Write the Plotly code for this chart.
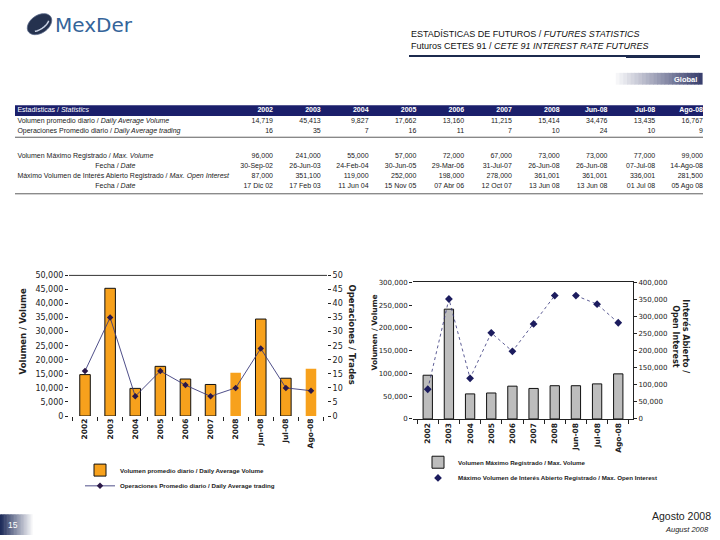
import numpy as np
import plotly.graph_objects as go

# ---------------- data ----------------
categories = ["2002", "2003", "2004", "2005", "2006", "2007", "2008", "Jun-08", "Jul-08", "Ago-08"]
daily_avg_volume = [14719, 45413, 9827, 17662, 13160, 11215, 15414, 34476, 13435, 16767]
daily_avg_trades = [16, 35, 7, 16, 11, 7, 10, 24, 10, 9]
max_volume = [96000, 241000, 55000, 57000, 72000, 67000, 73000, 73000, 77000, 99000]
max_volume_dates = ["30-Sep-02", "26-Jun-03", "24-Feb-04", "30-Jun-05", "29-Mar-06",
                    "31-Jul-07", "26-Jun-08", "26-Jun-08", "07-Jul-08", "14-Ago-08"]
max_open_interest = [87000, 351100, 119000, 252000, 198000, 278000, 361001, 361001, 336001, 281500]
max_oi_dates = ["17 Dic 02", "17 Feb 03", "11 Jun 04", "15 Nov 05", "07 Abr 06",
                "12 Oct 07", "13 Jun 08", "13 Jun 08", "01 Jul 08", "05 Ago 08"]
n_years = 7  # annual columns; the rest are months (line is broken between them)

header_label = "Estadísticas / <i>Statistics</i>"
row_labels = ["Volumen promedio diario / <i>Daily Average Volume</i>",
              "Operaciones Promedio diario / <i>Daily Average trading</i>",
              "Volumen Máximo Registrado / <i>Max. Volume</i>",
              "Fecha / <i>Date</i>",
              "Máximo Volumen de Interés Abierto Registrado / <i>Max. Open Interest</i>",
              "Fecha / <i>Date</i>"]

# ---------------- helpers / styles ----------------
W, H = 720, 540
def px(x):
    return x / W
def py(y):
    return 1 - y / H

NAVY = "#1b1f6b"
ORANGE = "#f7a11c"
GRAY_BAR = "#bdbdbd"
TXT = "#1a1a1a"
SANS = "Liberation Sans, Arial, sans-serif"
VERD = "DejaVu Sans, Verdana, sans-serif"

# table layout (style): header row + 6 body rows, y in px below table top
TABLE_TOP, TABLE_BOTTOM = 102, 197
header_row_y = 6.5
body_row_y = [17.5, 27.5, 52.5, 63, 73.5, 83.5]
label_col_x = -4.35       # left edge of label column (column units)
centered_label_x = -2.3   # centre of label column, for "Fecha / Date"
centered_rows = [3, 5]

def fmt(v):
    return f"{v:,}"

fig = go.Figure()

# ---------------- table (text marks on a hidden axis pair) ----------------
col_x = list(range(1, len(categories) + 1))
body_values = [[fmt(v) for v in daily_avg_volume],
               [str(v) for v in daily_avg_trades],
               [fmt(v) for v in max_volume],
               max_volume_dates,
               [fmt(v) for v in max_open_interest],
               max_oi_dates]

TFONT = dict(family=SANS, size=7, color=TXT)
fig.add_trace(go.Scatter(
    x=[label_col_x], y=[header_row_y], text=[header_label], mode="text",
    textposition="middle right", textfont=dict(family=SANS, size=7, color="white"),
    xaxis="x3", yaxis="y5", showlegend=False, hoverinfo="skip", cliponaxis=False))
fig.add_trace(go.Scatter(
    x=col_x, y=[header_row_y] * len(categories), text=categories, mode="text",
    textposition="middle left",
    textfont=dict(family=SANS, size=7, color="white", weight="bold"),
    xaxis="x3", yaxis="y5", showlegend=False, hoverinfo="skip", cliponaxis=False))
left_rows = [i for i in range(len(row_labels)) if i not in centered_rows]
fig.add_trace(go.Scatter(
    x=[label_col_x] * len(left_rows), y=[body_row_y[i] for i in left_rows],
    text=[row_labels[i] for i in left_rows], mode="text", textposition="middle right",
    textfont=TFONT, xaxis="x3", yaxis="y5", showlegend=False, hoverinfo="skip",
    cliponaxis=False))
fig.add_trace(go.Scatter(
    x=[centered_label_x] * len(centered_rows), y=[body_row_y[i] for i in centered_rows],
    text=[row_labels[i] for i in centered_rows], mode="text", textposition="middle center",
    textfont=TFONT, xaxis="x3", yaxis="y5", showlegend=False, hoverinfo="skip",
    cliponaxis=False))
vx, vy, vt = [], [], []
for r, vals in enumerate(body_values):
    for c, v in enumerate(vals):
        vx.append(col_x[c])
        vy.append(body_row_y[r])
        vt.append(v)
fig.add_trace(go.Scatter(
    x=vx, y=vy, text=vt, mode="text", textposition="middle left", textfont=TFONT,
    xaxis="x3", yaxis="y5", showlegend=False, hoverinfo="skip", cliponaxis=False))

# ---------------- left chart ----------------
left_outline = [1, 1, 1, 1, 1, 1, 0, 1, 1, 0]
fig.add_trace(go.Bar(
    x=categories, y=daily_avg_volume, width=0.42,
    name="Volumen promedio diario / Daily Average Volume",
    marker=dict(color=ORANGE, line=dict(color="#111111", width=left_outline)),
    xaxis="x", yaxis="y", legend="legend"))
fig.add_trace(go.Scatter(
    x=categories, y=daily_avg_trades, mode="lines+markers",
    name="Operaciones Promedio diario / Daily Average trading",
    line=dict(color="#3b3b7c", width=0.9),
    marker=dict(symbol="diamond", size=5, color="#2b1848"),
    xaxis="x", yaxis="y2", legend="legend2"))

# ---------------- right chart ----------------
fig.add_trace(go.Bar(
    x=categories, y=max_volume, width=0.44,
    name="Volumen Máximo Registrado / Max. Volume",
    marker=dict(color=GRAY_BAR, line=dict(color="#111111", width=1)),
    xaxis="x2", yaxis="y3", legend="legend3"))
LINE_R = dict(color="#34347a", width=0.8, dash="dot")
fig.add_trace(go.Scatter(
    x=categories[:n_years], y=max_open_interest[:n_years], mode="lines",
    line=LINE_R, showlegend=False, hoverinfo="skip", xaxis="x2", yaxis="y4"))
fig.add_trace(go.Scatter(
    x=categories[n_years:], y=max_open_interest[n_years:], mode="lines",
    line=LINE_R, showlegend=False, hoverinfo="skip", xaxis="x2", yaxis="y4"))
fig.add_trace(go.Scatter(
    x=categories, y=max_open_interest, mode="markers",
    name="Máximo Volumen de Interés Abierto Registrado / Max. Open Interest",
    marker=dict(symbol="diamond", size=6, color="#1c1c5e"),
    xaxis="x2", yaxis="y4", legend="legend4"))

# ---------------- axes ----------------
xtick_font = dict(family=VERD, size=7.5, color="#222", weight="bold")
xcommon = dict(type="category", categoryorder="array", categoryarray=categories,
               tickangle=-90, ticks="outside", ticklen=4, tickcolor="#222",
               tickson="boundaries", showgrid=False, zeroline=False,
               tickfont=xtick_font, fixedrange=True)
ycommon = dict(ticks="outside", ticklen=3, tickcolor="#222", showgrid=False,
               zeroline=False, tickformat=",", fixedrange=True)

fig.update_layout(
    xaxis=dict(domain=[px(69), px(327)], anchor="y", showline=False, **xcommon),
    yaxis=dict(domain=[py(419), py(276)], anchor="x", range=[0, 50000], dtick=5000,
               showline=False, tickfont=dict(family=VERD, size=8, color="#222"), **ycommon),
    yaxis2=dict(overlaying="y", side="right", anchor="x", range=[0, 50], dtick=5,
                showline=False, tickfont=dict(family=VERD, size=8, color="#222"), **ycommon),
    xaxis2=dict(domain=[px(413), px(633)], anchor="y3", showline=True, mirror=True,
                linecolor="#222", linewidth=1, **xcommon),
    yaxis3=dict(domain=[py(422), py(283)], anchor="x2", range=[0, 300000], dtick=50000,
                showline=False, tickfont=dict(family=VERD, size=7, color="#222"), **ycommon),
    yaxis4=dict(overlaying="y3", side="right", anchor="x2", range=[0, 400000], dtick=50000,
                showline=True, linecolor="#222", linewidth=1,
                tickfont=dict(family=VERD, size=7, color="#222"), **ycommon),
    xaxis3=dict(domain=[px(15), px(703)], anchor="y5", range=[label_col_x - 0.05, 10.0],
                visible=False, fixedrange=True),
    yaxis5=dict(domain=[py(TABLE_BOTTOM), py(TABLE_TOP)], anchor="x3",
                range=[TABLE_BOTTOM - TABLE_TOP, 0], visible=False, fixedrange=True),
)

# ---------------- legends ----------------
leg_font = dict(family=SANS, size=6.2, color=TXT, weight="bold")
def leg(x, y):
    return dict(x=px(x), y=py(y), xanchor="left", yanchor="middle",
                bgcolor="rgba(0,0,0,0)", borderwidth=0, font=leg_font,
                itemclick=False, itemdoubleclick=False)
fig.update_layout(
    legend=leg(80, 474),
    legend2=leg(80, 490),
    legend3=leg(418, 466),
    legend4=leg(418, 482),
)

# ---------------- decorations ----------------
shapes = []
shapes.append(dict(type="rect", xref="paper", yref="paper", x0=px(15), x1=px(703),
                   y0=py(114), y1=py(103), fillcolor=NAVY, line=dict(width=0), layer="below"))
shapes.append(dict(type="line", xref="paper", yref="paper", x0=px(15), x1=px(703),
                   y0=py(135.5), y1=py(135.5), line=dict(color="#333", width=0.8)))
shapes.append(dict(type="line", xref="paper", yref="paper", x0=px(15), x1=px(703),
                   y0=py(193), y1=py(193), line=dict(color="#333", width=0.8)))
shapes.append(dict(type="line", xref="x domain", yref="y domain", x0=0, x1=1, y0=1, y1=1,
                   line=dict(color="#333", width=1)))
shapes.append(dict(type="line", xref="paper", yref="paper", x0=px(409), x1=px(700),
                   y0=py(53), y1=py(53), line=dict(color="#1c2a4e", width=2)))
shapes.append(dict(type="line", xref="paper", yref="paper", x0=px(626), x1=px(700),
                   y0=py(53.5), y1=py(53.5), line=dict(color="#1c2a4e", width=3)))

def gradient(x0, x1, y0, y1, c_left, c_right, n=24):
    c0 = np.array(c_left, float)
    c1 = np.array(c_right, float)
    xs = np.linspace(x0, x1, n + 1)
    for k in range(n):
        t = k / (n - 1)
        c = (c0 + (c1 - c0) * t).astype(int)
        shapes.append(dict(type="rect", xref="paper", yref="paper",
                           x0=px(xs[k]), x1=px(xs[k + 1] + 0.6), y0=py(y1), y1=py(y0),
                           fillcolor=f"rgb({c[0]},{c[1]},{c[2]})", line=dict(width=0)))

gradient(612, 702, 70, 82, (255, 255, 255), (58, 64, 110))
gradient(0, 34, 519, 540, (30, 44, 90), (255, 255, 255))

t = np.linspace(0, 2 * np.pi, 40)
cx, cy, ra, rb, ang = 39.5, 20.5, 13.5, 9.0, np.deg2rad(-35)
ex = cx + ra * np.cos(t) * np.cos(ang) - rb * np.sin(t) * np.sin(ang)
ey = cy + ra * np.cos(t) * np.sin(ang) + rb * np.sin(t) * np.cos(ang)
path = "M " + " L ".join(f"{px(a):.5f},{py(b):.5f}" for a, b in zip(ex, ey)) + " Z"
shapes.append(dict(type="path", xref="paper", yref="paper", path=path,
                   fillcolor="#25324f", line=dict(color="#5a6a8a", width=0.8)))
t2 = np.linspace(0.5, 2.4, 20)
hx = cx + 0.8 * ra * np.cos(t2) * np.cos(ang) - 0.55 * rb * np.sin(t2) * np.sin(ang)
hy = cy + 0.8 * ra * np.cos(t2) * np.sin(ang) + 0.55 * rb * np.sin(t2) * np.cos(ang)
path2 = "M " + " L ".join(f"{px(a):.5f},{py(b):.5f}" for a, b in zip(hx, hy))
shapes.append(dict(type="path", xref="paper", yref="paper", path=path2,
                   line=dict(color="#c9d2e4", width=1.5)))

fig.update_layout(shapes=shapes)

# ---------------- annotations ----------------
ann = []
def text(x, y, s, size, color=TXT, family=SANS, xanchor="left", angle=0, weight="normal",
         align="left"):
    ann.append(dict(x=px(x), y=py(y), xref="paper", yref="paper", text=s, showarrow=False,
                    xanchor=xanchor, yanchor="middle", textangle=angle, align=align,
                    font=dict(family=family, size=size, color=color, weight=weight)))

text(53, 21, "MexDer", 20, color="#34649a", family="DejaVu Sans, sans-serif")
text(409, 30, "ESTADÍSTICAS DE FUTUROS / <i>FUTURES STATISTICS</i>", 9, color="#111")
text(409, 43, "Futuros CETES 91 / <i>CETE 91 INTEREST RATE FUTURES</i>", 9, color="#111")
text(699, 76.5, "Global", 7.5, color="white", xanchor="right", weight="bold")
text(13, 529.5, "15", 8.5, color="white", xanchor="center")
text(713, 521, "Agosto 2008", 10.5, color="#222", xanchor="right")
text(711, 534, "<i>August 2008</i>", 7.5, color="#222", xanchor="right")

text(23, 333, "Volumen / Volume", 8.5, color="#222", family=VERD, xanchor="center",
     angle=-90, weight="bold")
text(352, 336, "Operaciones / Trades", 8.5, color="#222", family=VERD, xanchor="center",
     angle=90, weight="bold")
text(374, 334, "Volumen / Volume", 7.5, color="#222", family=VERD, xanchor="center",
     angle=-90, weight="bold")
text(681, 338, "Interés Abierto /<br>Open Interest", 8, color="#222", family=VERD,
     xanchor="center", angle=90, weight="bold", align="center")

fig.update_layout(annotations=ann)

fig.update_layout(
    width=W, height=H, margin=dict(l=0, r=0, t=0, b=0),
    paper_bgcolor="white", plot_bgcolor="rgba(0,0,0,0)",
    showlegend=True, hovermode=False,
)

# remove the browser's default 8px page margin so the 720x540 figure fills the window
fig.write_html("out.html",
               config={"displayModeBar": False, "staticPlot": True},
               post_script="document.body.style.margin='0';document.body.style.overflow='hidden';")
